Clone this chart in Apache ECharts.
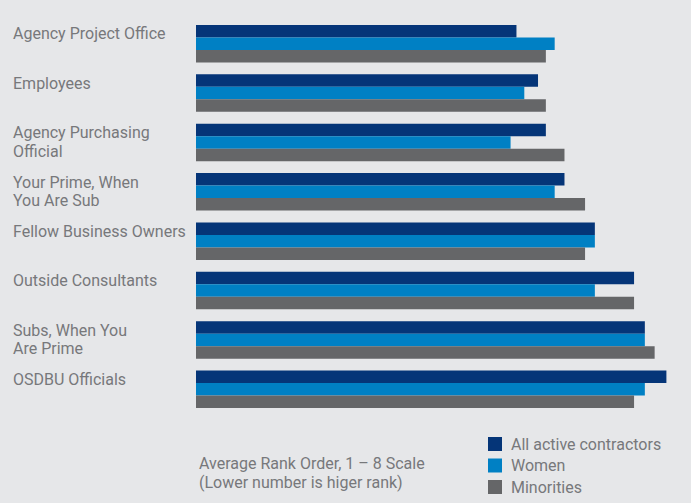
<!DOCTYPE html>
<html>
<head>
<meta charset="utf-8">
<script src="https://cdn.jsdelivr.net/npm/echarts@6/dist/echarts.min.js"></script>
<style>
  html, body { margin: 0; padding: 0; background: #e6e7e9; }
  #chart { width: 691px; height: 503px; }
</style>
</head>
<body>
<div id="chart"></div>
<script>
// Sources ranked by contractors (average rank order on a 1–8 scale)
const categories = [
  'Agency Project Office',
  'Employees',
  'Agency Purchasing\nOfficial',
  'Your Prime, When\nYou Are Sub',
  'Fellow Business Owners',
  'Outside Consultants',
  'Subs, When You\nAre Prime',
  'OSDBU Officials'
];
const allContractors = [3.27, 3.49, 3.57, 3.76, 4.07, 4.47, 4.58, 4.80];
const women          = [3.66, 3.35, 3.21, 3.66, 4.07, 4.07, 4.58, 4.58];
const minorities     = [3.57, 3.57, 3.76, 3.97, 3.97, 4.47, 4.68, 4.47];
const seriesNames = ['All active contractors', 'Women', 'Minorities'];
const noteLines = ['Average Rank Order, 1 \u2013 8 Scale', '(Lower number is higer rank)'];

const colors = ['#053578', '#0080c4', '#656668'];
const textColor = '#77787b';
const fontFamily = 'Roboto, "Liberation Sans", sans-serif';

const chart = echarts.init(document.getElementById('chart'), null, { renderer: 'svg' });

const barSeries = [allContractors, women, minorities].map((data, i) => ({
  name: seriesNames[i],
  type: 'bar',
  data: data,
  barGap: '0%',
  barCategoryGap: '24%',
  itemStyle: { color: colors[i] },
  emphasis: { disabled: true },
  silent: true
}));

chart.setOption({
  backgroundColor: '#e6e7e9',
  animation: false,
  color: colors,
  textStyle: { fontFamily: fontFamily },
  grid: { left: 196, top: 19, width: 490, height: 395, containLabel: false },
  xAxis: {
    type: 'value',
    min: 0,
    max: 5,
    show: false
  },
  yAxis: {
    type: 'category',
    data: categories,
    inverse: true,
    axisLine: { show: false },
    axisTick: { show: false },
    axisLabel: { show: false },
    splitLine: { show: false }
  },
  legend: {
    orient: 'vertical',
    left: 488,
    top: 436,
    padding: 0,
    itemWidth: 14,
    itemHeight: 14,
    itemGap: 5.5,
    icon: 'rect',
    selectedMode: false,
    data: seriesNames,
    textStyle: {
      color: textColor,
      fontSize: 16,
      lineHeight: 14,
      fontFamily: fontFamily,
      padding: [0, 0, 0, 4]
    }
  },
  series: barSeries
});

// Category labels sit flush left, aligned with the top of each bar group
const graphics = categories.map((name, i) => {
  const cy = chart.convertToPixel({ yAxisIndex: 0 }, i);
  return {
    type: 'text',
    left: 13,
    top: cy - 19,
    silent: true,
    style: {
      text: name,
      fill: textColor,
      fontSize: 16,
      lineHeight: 18.5,
      fontFamily: fontFamily
    }
  };
});

graphics.push({
  type: 'text',
  left: 199,
  top: 454,
  silent: true,
  style: {
    text: noteLines.join('\n'),
    fill: textColor,
    fontSize: 16,
    lineHeight: 19,
    fontFamily: fontFamily
  }
});

chart.setOption({ graphic: graphics });
</script>
</body>
</html>
